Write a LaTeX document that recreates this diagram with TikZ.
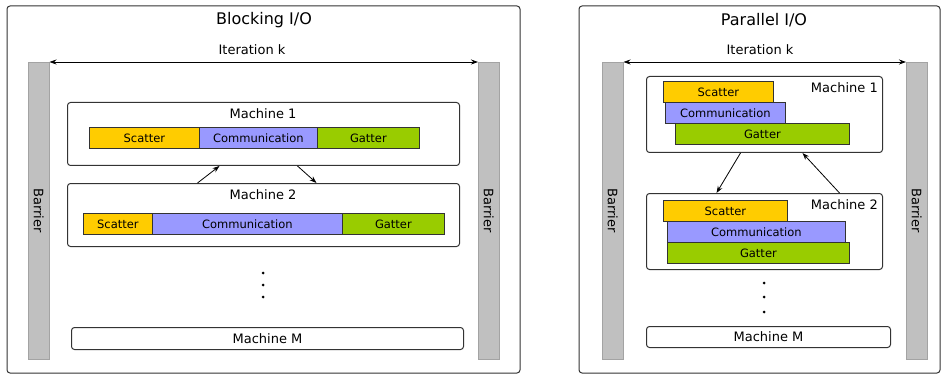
\documentclass[tikz,border=0pt]{standalone}
\usepackage{fontspec}
\setmainfont{DejaVu Sans}
\usetikzlibrary{arrows.meta}
\definecolor{scattercol}{HTML}{FFCC00}
\definecolor{commcol}{HTML}{9999FF}
\definecolor{gattercol}{HTML}{99CC00}
\definecolor{barriercol}{HTML}{C0C0C0}
\definecolor{linecol}{HTML}{333333}
\begin{document}
\begin{tikzpicture}[x=1pt, y=-1pt,
    panel/.style={draw=linecol, line width=1pt, rounded corners=3pt},
    machinebox/.style={draw=linecol, line width=1pt, rounded corners=3pt, anchor=north west, inner sep=0pt},
    bar/.style={draw=linecol, line width=0.8pt, anchor=north west, inner sep=0pt, minimum height=21pt, font=\fontsize{11.5}{13}\selectfont},
    barrierbar/.style={fill=barriercol, draw=barriercol!85!black, line width=0.5pt, anchor=north west, inner sep=0pt, minimum width=21pt, minimum height=297pt},
    label13/.style={font=\fontsize{13}{15}\selectfont, inner sep=0pt},
    flow/.style={-{Stealth[length=7pt, width=5pt]}, line width=0.8pt},
    punto/.style={fill=black, circle, inner sep=0pt, minimum size=3pt}
]
    \useasboundingbox (0,0) rectangle (941,374);

    % Paneles
    \draw[panel] (7,6) rectangle (520,373);
    \draw[panel] (579,6) rectangle (940,373);
    \node[font=\fontsize{16}{19}\selectfont] (titleL) at (264,20) {Blocking I/O};
    \node[font=\fontsize{16}{19}\selectfont] (titleR) at (764,20) {Parallel I/O};

    % Barreras
    \node[barrierbar] (barL1) at (28,62) {};
    \node[barrierbar] (barL2) at (478,62) {};
    \node[barrierbar] (barR1) at (602,62) {};
    \node[barrierbar] (barR2) at (906,62) {};
    \foreach \b in {barL1, barL2, barR1, barR2}
        \node[label13, rotate=-90] at (\b) {Barrier};

    % Iteracion k
    \draw[{Stealth[length=7pt, width=5pt]}-{Stealth[length=7pt, width=5pt]}, line width=0.8pt] (barL1.north east) -- (barL2.north west);
    \draw[{Stealth[length=7pt, width=5pt]}-{Stealth[length=7pt, width=5pt]}, line width=0.8pt] (barR1.north east) -- (barR2.north west);
    \node[label13] (itL) at (252,50) {Iteration k};
    \node[label13] (itR) at (760,50) {Iteration k};

    % Blocking I/O: maquinas
    \node[machinebox, minimum width=392pt, minimum height=63pt] (m1L) at (67,102) {};
    \node[label13] (m1Ltext) at (263,114) {Machine 1};
    \node[bar, fill=scattercol, minimum width=110pt] (s1L) at (89,127) {Scatter};
    \node[bar, fill=commcol, minimum width=118pt] (c1L) at (199,127) {Communication};
    \node[bar, fill=gattercol, minimum width=102pt] (g1L) at (317,127) {Gatter};

    \node[machinebox, minimum width=392pt, minimum height=63pt] (m2L) at (67,183) {};
    \node[label13] (m2Ltext) at (263,195) {Machine 2};
    \node[bar, fill=scattercol, minimum width=69pt] (s2L) at (83,213) {Scatter};
    \node[bar, fill=commcol, minimum width=190pt] (c2L) at (152,213) {Communication};
    \node[bar, fill=gattercol, minimum width=102pt] (g2L) at (342,213) {Gatter};

    \draw[flow] ([xshift=-66pt]m2L.north) -- ([xshift=-44pt]m1L.south);
    \draw[flow] ([xshift=34pt]m1L.south) -- ([xshift=53pt]m2L.north);

    \node[punto] (d1L) at (263,273) {};
    \node[punto] (d2L) at (263,285) {};
    \node[punto] (d3L) at (263,297) {};

    \node[machinebox, minimum width=392pt, minimum height=22pt, label13] (mML) at (71,327) {};
    \node[label13] at (mML) {Machine M};

    % Parallel I/O: maquinas
    \node[machinebox, minimum width=236pt, minimum height=76pt] (m1R) at (646,76) {};
    \node[label13, anchor=east] (m1Rtext) at (878,88) {Machine 1};
    \node[bar, fill=scattercol, minimum width=110pt] (s1R) at (663,81) {Scatter};
    \node[bar, fill=commcol, minimum width=120pt] (c1R) at (665,102) {Communication};
    \node[bar, fill=gattercol, minimum width=174pt] (g1R) at (675,123) {Gatter};

    \node[machinebox, minimum width=236pt, minimum height=76pt] (m2R) at (646,193) {};
    \node[label13, anchor=east] (m2Rtext) at (878,205) {Machine 2};
    \node[bar, fill=scattercol, minimum width=124pt] (s2R) at (663,200) {Scatter};
    \node[bar, fill=commcol, minimum width=178pt] (c2R) at (667,221) {Communication};
    \node[bar, fill=gattercol, minimum width=182pt] (g2R) at (667,242) {Gatter};

    \draw[flow] ([xshift=-24pt]m1R.south) -- ([xshift=-48pt]m2R.north);
    \draw[flow] ([xshift=75pt]m2R.north) -- ([xshift=38pt]m1R.south);

    \node[punto] (d1R) at (764,283) {};
    \node[punto] (d2R) at (764,297) {};
    \node[punto] (d3R) at (764,312) {};

    \node[machinebox, minimum width=244pt, minimum height=21pt] (mMR) at (646,326) {};
    \node[label13] at (mMR) {Machine M};
\end{tikzpicture}
\end{document}
